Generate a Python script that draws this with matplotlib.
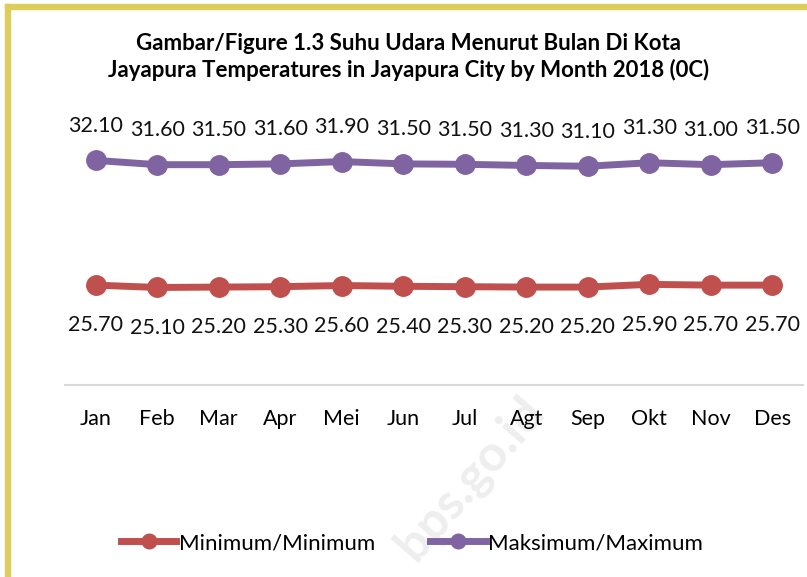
import numpy as np
import matplotlib.pyplot as plt
from matplotlib.patches import Rectangle

plt.rcParams['font.family'] = ['Lato', 'DejaVu Sans']

months = ['Jan', 'Feb', 'Mar', 'Apr', 'Mei', 'Jun', 'Jul', 'Agt', 'Sep', 'Okt', 'Nov', 'Des']
minimum = [25.7, 25.1, 25.2, 25.3, 25.6, 25.4, 25.3, 25.2, 25.2, 25.9, 25.7, 25.7]
maksimum = [32.1, 31.6, 31.5, 31.6, 31.9, 31.5, 31.5, 31.3, 31.1, 31.3, 31.0, 31.5]

red = '#C0504D'
purple = '#8064A2'

fig = plt.figure(figsize=(8.07, 5.77), dpi=100)
ax = fig.add_axes([65/807, 192/577, 738/807, 272/577])
ax.patch.set_alpha(0)

x = np.arange(len(months))
mn = np.array(minimum)
mx_stack = mn + np.array(maksimum)   # grafik garis bertumpuk (stacked)

ax.plot(x, mn, color=red, lw=5, marker='o', ms=14, label='Minimum/Minimum')
ax.plot(x, mx_stack, color=purple, lw=5, marker='o', ms=14, label='Maksimum/Maximum')

for i in range(len(months)):
    ax.annotate('%.2f' % minimum[i], (x[i], mn[i]), xytext=(0, -29), textcoords='offset points',
                ha='center', va='center', fontsize=15.5, color='#111111')
    ax.annotate('%.2f' % maksimum[i], (x[i], mx_stack[i]), xytext=(0, 25), textcoords='offset points',
                ha='center', va='center', fontsize=15.5, color='#111111')

ax.set_xlim(-0.5, 11.5)
ax.set_ylim(0, 70)
ax.set_xticks(x)
ax.set_xticklabels(months, fontsize=15.5)
ax.tick_params(axis='x', length=0, pad=17)
ax.set_yticks([])
for s in ['top', 'right', 'left']:
    ax.spines[s].set_visible(False)
ax.spines['bottom'].set_color('#D9D9D9')
ax.spines['bottom'].set_linewidth(1.5)

fig.text(409/807, 1 - 57/577, 'Gambar/Figure 1.3 Suhu Udara Menurut Bulan Di Kota\nJayapura Temperatures in Jayapura City by Month 2018 (0C)',
         ha='center', va='center', fontsize=16, fontweight='bold', linespacing=1.3)

leg = fig.legend(loc='center', bbox_to_anchor=(412/807, 1 - 543/577), ncol=2, frameon=False,
                 fontsize=16, handlelength=2.5, handletextpad=0.1, columnspacing=2.5, markerscale=0.75)

# watermark
fig.text(470/807, 1 - 478/577, 'bps.go.id', rotation=49, ha='center', va='center',
         fontsize=36, fontweight='bold', color='#EEEEEE', zorder=-1)

# bingkai kuning
fig.patches.append(Rectangle((5/807, 0), 5/807, 1 - 4/577, transform=fig.transFigure, color='#DDCE5C', zorder=5))
fig.patches.append(Rectangle((5/807, 1 - 9/577), 802/807, 5/577, transform=fig.transFigure, color='#DDCE5C', zorder=5))

fig.savefig('out.png', dpi=100)
